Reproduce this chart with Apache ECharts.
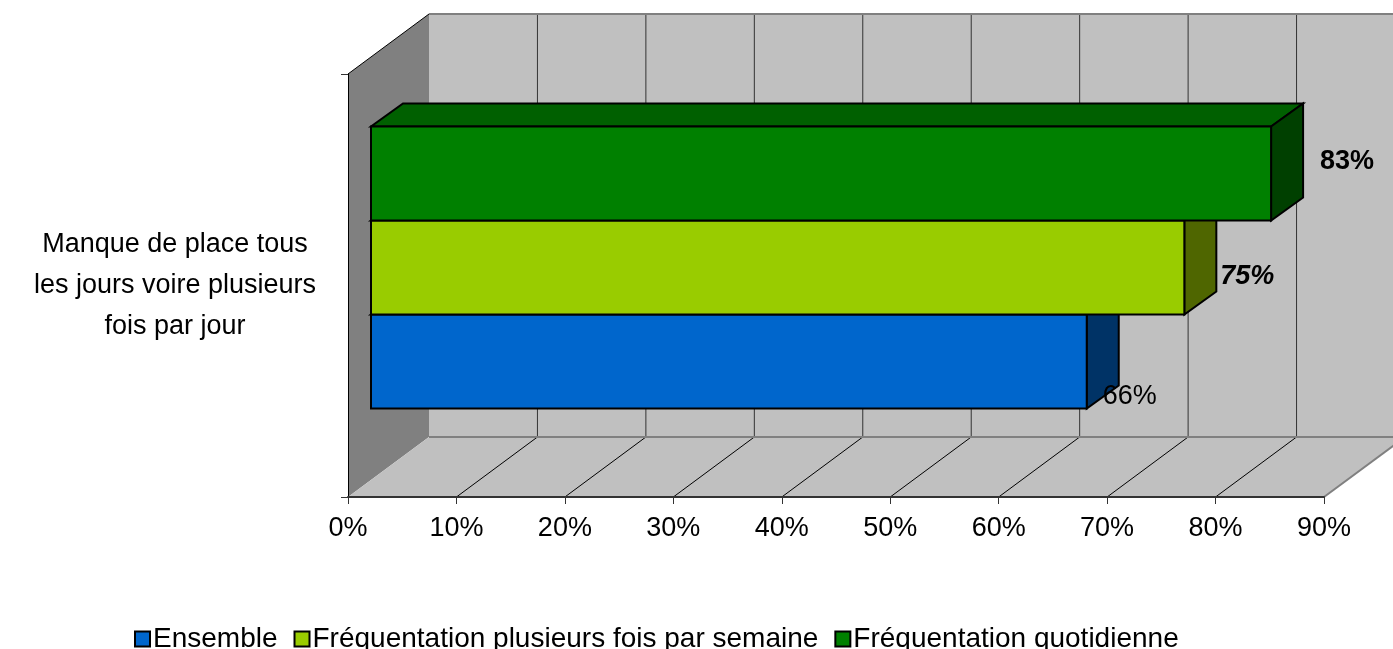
<!DOCTYPE html>
<html>
<head>
<meta charset="utf-8">
<title>Manque de place</title>
<script src="https://cdn.jsdelivr.net/npm/echarts@6/dist/echarts.min.js"></script>
<style>
html,body{margin:0;padding:0;background:#fff}
#chart{width:1393px;height:649px}
</style>
</head>
<body>
<div id="chart"></div>
<script>
var categories = ['Manque de place tous\nles jours voire plusieurs\nfois par jour'];
var seriesNames = ['Ensemble', 'Fréquentation plusieurs fois par semaine', 'Fréquentation quotidienne'];
var seriesValues = [66, 75, 83];
var xTicks = [0, 10, 20, 30, 40, 50, 60, 70, 80, 90];

var frontColors = ['#0066CC', '#99CC00', '#008000'];
var topColors = ['#005299', '#7AA300', '#006000'];
var sideColors = ['#003366', '#4F6600', '#004000'];
// data labels are placed by hand in the original, each with its own style
var labelStyles = [
  {dx: 16, dy: 35, weight: 'normal', italic: 'normal'},
  {dx: 36, dy: 9, weight: 'bold', italic: 'italic'},
  {dx: 49, dy: -12, weight: 'bold', italic: 'normal'}
];

var FONT = '"Liberation Sans", Arial, sans-serif';
var WALL_DX = 81, WALL_DY = -60;   // depth of the floor
var BAR_DX = 23, BAR_DY = -18;     // where the bars start in the depth
var BAR_DEPTH_X = 32, BAR_DEPTH_Y = -23;
var BAR_BAND = 94 / 423;           // bar height / category band

function renderWalls(params, api) {
  var p0 = api.coord([xTicks[0], 0]);
  var p1 = api.coord([xTicks[xTicks.length - 1], 0]);
  var h = api.size([0, 1])[1];
  var left = p0[0], right = p1[0], bottom = p0[1] + h / 2, top = p0[1] - h / 2;
  var children = [];
  // back wall
  children.push({type: 'polygon', shape: {points: [
    [left + WALL_DX, top + WALL_DY], [right + WALL_DX, top + WALL_DY],
    [right + WALL_DX, bottom + WALL_DY], [left + WALL_DX, bottom + WALL_DY]
  ]}, style: {fill: '#C0C0C0'}});
  // left wall
  children.push({type: 'polygon', shape: {points: [
    [left, top], [left + WALL_DX, top + WALL_DY], [left + WALL_DX, bottom + WALL_DY], [left, bottom]
  ]}, style: {fill: '#808080'}});
  // floor
  children.push({type: 'polygon', shape: {points: [
    [left, bottom], [right, bottom], [right + WALL_DX, bottom + WALL_DY], [left + WALL_DX, bottom + WALL_DY]
  ]}, style: {fill: '#C0C0C0'}});
  // grid lines
  for (var i = 1; i < xTicks.length; i++) {
    var x = api.coord([xTicks[i], 0])[0];
    children.push({type: 'line', shape: {x1: x + WALL_DX, y1: top + WALL_DY, x2: x + WALL_DX, y2: bottom + WALL_DY},
      style: {stroke: '#333', lineWidth: 1}});
    children.push({type: 'line', shape: {x1: x, y1: bottom, x2: x + WALL_DX, y2: bottom + WALL_DY},
      style: {stroke: i == xTicks.length - 1 ? '#808080' : '#000', lineWidth: i == xTicks.length - 1 ? 2 : 1}});
  }
  // edges
  children.push({type: 'line', shape: {x1: left + WALL_DX, y1: top + WALL_DY, x2: right + WALL_DX, y2: top + WALL_DY},
    style: {stroke: '#808080', lineWidth: 2}});
  children.push({type: 'line', shape: {x1: left + WALL_DX, y1: bottom + WALL_DY, x2: right + WALL_DX, y2: bottom + WALL_DY},
    style: {stroke: '#808080', lineWidth: 2}});
  children.push({type: 'line', shape: {x1: left, y1: top, x2: left + WALL_DX, y2: top + WALL_DY},
    style: {stroke: '#000', lineWidth: 1}});
  return {type: 'group', children: children};
}

function makeRenderBar(idx) {
  return function (params, api) {
    var end = api.coord([api.value(0), api.value(1)]);
    var start = api.coord([0, api.value(1)]);
    var barH = api.size([0, 1])[1] * BAR_BAND;
    var cy = end[1] + BAR_DY - (idx - 1) * barH;
    var x0 = start[0] + BAR_DX, x1 = end[0] + BAR_DX;
    var y0 = cy - barH / 2, y1 = cy + barH / 2;
    var edge = {stroke: '#000', lineWidth: 2, lineJoin: 'miter'};
    var ls = labelStyles[idx];
    return {type: 'group', children: [
      {type: 'polygon', shape: {points: [[x0, y0], [x1, y0], [x1 + BAR_DEPTH_X, y0 + BAR_DEPTH_Y], [x0 + BAR_DEPTH_X, y0 + BAR_DEPTH_Y]]},
        style: Object.assign({fill: topColors[idx]}, edge)},
      {type: 'polygon', shape: {points: [[x1, y0], [x1 + BAR_DEPTH_X, y0 + BAR_DEPTH_Y], [x1 + BAR_DEPTH_X, y1 + BAR_DEPTH_Y], [x1, y1]]},
        style: Object.assign({fill: sideColors[idx]}, edge)},
      {type: 'polygon', shape: {points: [[x0, y0], [x1, y0], [x1, y1], [x0, y1]]},
        style: Object.assign({fill: frontColors[idx]}, edge)},
      {type: 'text', z2: 10, style: {x: x1 + ls.dx, y: cy + ls.dy, text: seriesValues[idx] + '%', fill: '#000',
        fontFamily: FONT, fontSize: 27, fontWeight: ls.weight, fontStyle: ls.italic,
        textAlign: 'left', textVerticalAlign: 'middle'}}
    ]};
  };
}

var series = [{
  type: 'custom', name: 'walls', silent: true, clip: false, z: 1,
  renderItem: renderWalls, data: [[0, 0]]
}];
seriesNames.forEach(function (name, i) {
  series.push({
    type: 'custom', name: name, silent: true, clip: false, z: 2 + i,
    renderItem: makeRenderBar(i),
    itemStyle: {color: frontColors[i], borderColor: '#000', borderWidth: 2},
    encode: {x: 0, y: 1},
    data: [[seriesValues[i], 0]]
  });
});

var myChart = echarts.init(document.getElementById('chart'));
var option = {
  animation: false,
  backgroundColor: '#fff',
  textStyle: {fontFamily: FONT},
  grid: {left: 348, top: 74, width: 976, height: 423, containLabel: false},
  legend: {
    data: seriesNames, left: 129, top: 620, itemWidth: 15, itemHeight: 15, itemGap: 16,
    icon: 'rect', selectedMode: false,
    textStyle: {fontFamily: FONT, fontSize: 28, color: '#000', padding: [0, 0, 0, -2]}
  },
  xAxis: {
    type: 'value', min: 0, max: 90, interval: 10, z: 6,
    axisLine: {show: true, lineStyle: {color: '#333', width: 2}},
    axisTick: {show: true, length: 7, lineStyle: {color: '#333', width: 1}},
    splitLine: {show: false},
    axisLabel: {formatter: '{value}%', color: '#000', fontSize: 27, fontFamily: FONT, margin: 18}
  },
  yAxis: {
    type: 'category', data: categories, z: 6,
    axisLine: {show: true, lineStyle: {color: '#000', width: 1}},
    axisTick: {show: true, length: 7, lineStyle: {color: '#333', width: 1}},
    axisLabel: {color: '#000', fontSize: 27, fontFamily: FONT, align: 'center', margin: 173, lineHeight: 41}
  },
  series: series
};
myChart.setOption(option);
window.addEventListener('resize', function () { myChart.resize(); });
</script>
</body>
</html>
